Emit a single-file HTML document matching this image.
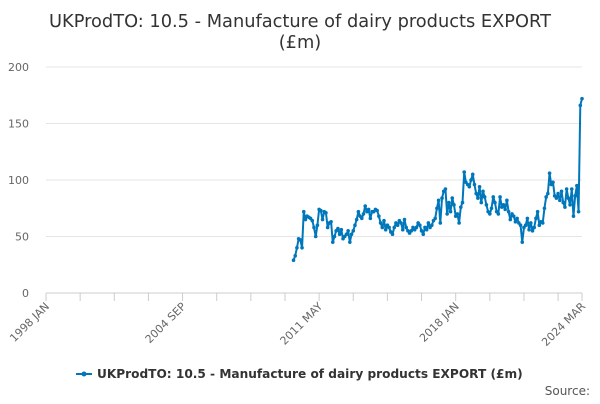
<!DOCTYPE html>
<html><head><meta charset="utf-8"><style>
body{margin:0;background:#fff;font-family:"DejaVu Sans",sans-serif}
svg text{font-family:"DejaVu Sans",sans-serif}
</style></head><body>
<svg id="chart" width="600" height="400">
<text x="300" y="27" text-anchor="middle" font-size="17.8" fill="#333">UKProdTO: 10.5 - Manufacture of dairy products EXPORT</text>
<text x="300" y="48" text-anchor="middle" font-size="17.8" fill="#333">(£m)</text>
<g id="grid"></g><g id="xaxis"></g><g id="series"></g>
<g>
<line x1="76" y1="374" x2="92" y2="374" stroke="#0077bb" stroke-width="2"/>
<circle cx="84" cy="374" r="2.5" fill="#0077bb"/>
<text x="97" y="378" font-size="12.15" font-weight="bold" fill="#333">UKProdTO: 10.5 - Manufacture of dairy products EXPORT (£m)</text>
</g>
<text x="590" y="395" text-anchor="end" font-size="12" fill="#555">Source:</text>
</svg>
<script>
const yTicks=[0,50,100,150,200];
const xLabels=["1998 JAN","2004 SEP","2011 MAY","2018 JAN","2024 MAR"];
const xLabelMonths=[0,80,160,240,314];
const values=[29,33,40,48,47,40,72,65,68,67,66,
64,58,50,60,74,73,65,72,71,58,62,63,
45,50,55,57,52,56,48,50,52,55,45,52,
55,60,65,72,68,66,70,77,72,74,66,72,
72,74,73,68,62,58,64,56,60,58,54,52,
58,62,60,64,62,56,65,58,55,53,55,58,
56,58,62,60,55,52,58,56,62,58,60,64,
66,75,82,62,84,90,92,70,80,72,84,78,
68,70,62,76,80,107,98,96,94,100,105,
96,88,84,94,80,90,85,78,72,70,75,85,
80,72,70,85,76,78,74,82,72,65,70,68,
63,66,62,60,45,58,60,66,56,62,55,58,
66,72,60,63,62,75,85,88,106,96,98,
86,84,88,82,90,80,76,92,84,78,92,
68,86,95,72,166,172];
const NS="http://www.w3.org/2000/svg";
const x0=46,x1=582,y0=293,y1=67,maxM=314;
const xs=m=>x0+(x1-x0)*m/maxM;
const ys=v=>y0-(y0-y1)*v/200;
function mk(t,a,p){const e=document.createElementNS(NS,t);for(const k in a)e.setAttribute(k,a[k]);p.appendChild(e);return e;}
const grid=document.getElementById('grid');
yTicks.forEach(v=>{
 const l=mk('line',{x1:x0,x2:x1,y1:ys(v),y2:ys(v),stroke:v===0?'#ccc':'#e6e6e6'},grid);
 
 
 const t=mk('text',{x:29,y:ys(v)+4,'text-anchor':'end','font-size':11,fill:'#666'},grid);
 t.textContent=v;
 
 
});
const xa=document.getElementById('xaxis');
for(let m=0;m<=maxM;m+=20){mk('line',{x1:xs(m),x2:xs(m),y1:y0,y2:y0+8,stroke:'#ccc'},xa);}
mk('line',{x1:xs(maxM),x2:xs(maxM),y1:y0,y2:y0+8,stroke:'#ccc'},xa);
xLabels.forEach((s,i)=>{
 const x=xs(xLabelMonths[i]);
 const t=mk('text',{x:x+4,y:y0+14,'text-anchor':'end','font-size':11,fill:'#666',transform:`rotate(-45 ${x+4} ${y0+14})`},xa);
 t.textContent=s;
 
 
});
const ser=document.getElementById('series');
const start=maxM-(values.length-1);
const pts=values.map((v,i)=>[xs(start+i),ys(v)]);
const p=mk('polyline',{points:pts.map(p=>p.join(',')).join(' '),fill:'none',stroke:'#0077bb','stroke-width':2,'stroke-linejoin':'round'},ser);


pts.forEach(q=>{
 const c=mk('circle',{cx:q[0],cy:q[1],r:1.8,fill:'#0077bb'},ser);
 
 
});
</script>
</body></html>
